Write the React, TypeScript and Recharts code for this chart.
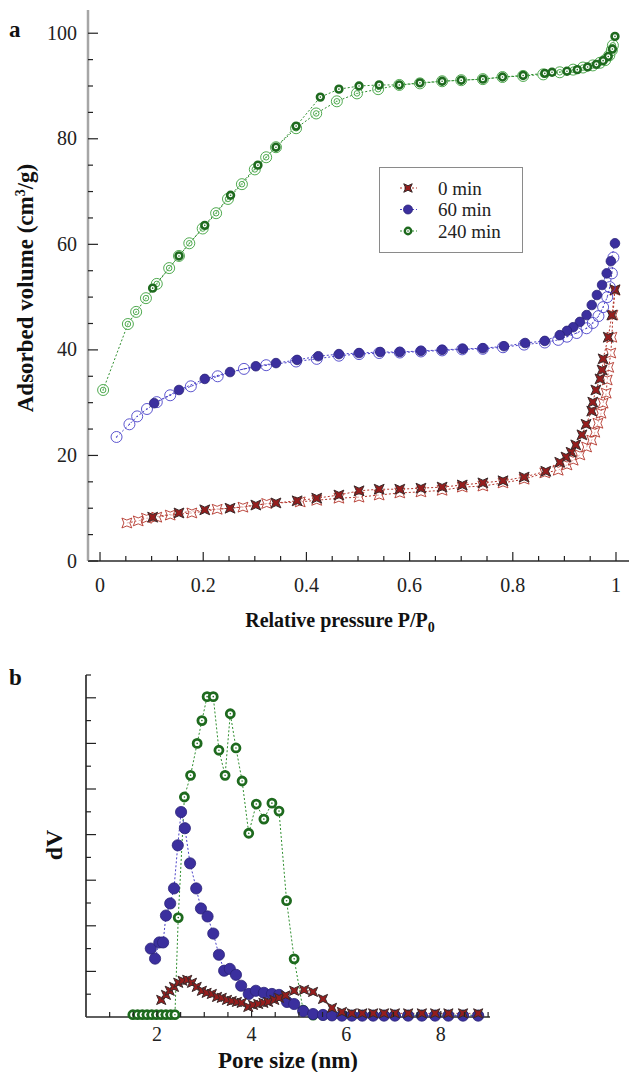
import { LineChart, Line, XAxis, YAxis } from 'recharts';

const FONT = '"Liberation Serif", "Times New Roman", Times, serif';

// ---- (a) N2 isotherms: [P/P0, adsorbed volume cm3/g] ----
// ads = adsorption branch (open markers), des = desorption branch (filled markers)
const ads0: [number, number][] = [
  [0.052, 7.2], [0.074, 7.6], [0.09, 8.1], [0.11, 8.3], [0.136, 8.7], [0.178, 9.1], [0.227, 9.8],
  [0.277, 10.2], [0.323, 10.9], [0.388, 11.2], [0.42, 11.5], [0.463, 11.9], [0.502, 12.1],
  [0.541, 12.5], [0.581, 12.9], [0.622, 13.1], [0.663, 13.4], [0.702, 14.0], [0.742, 14.2],
  [0.781, 14.8], [0.822, 15.5], [0.862, 16.7], [0.888, 17.2], [0.905, 18.2], [0.917, 19.1],
  [0.93, 20.1], [0.943, 21.6], [0.953, 22.9], [0.959, 24.4], [0.965, 26.1], [0.971, 28.0],
  [0.975, 29.9], [0.981, 31.8], [0.983, 34.3], [0.986, 36.7], [0.99, 39.4], [0.992, 42.4],
  [0.994, 46.6], [0.998, 51.3],
];
const des0: [number, number][] = [
  [0.998, 51.4], [0.992, 46.6], [0.985, 42.4], [0.975, 38.3], [0.973, 36.2], [0.969, 34.5],
  [0.961, 32.4], [0.955, 30.1], [0.953, 28.4], [0.942, 25.9], [0.934, 23.9], [0.922, 22.0],
  [0.913, 20.6], [0.903, 19.7], [0.891, 18.7], [0.864, 17.0], [0.822, 15.9], [0.781, 15.2],
  [0.742, 14.8], [0.702, 14.4], [0.663, 14.0], [0.622, 13.8], [0.581, 13.6], [0.541, 13.6],
  [0.502, 13.3], [0.463, 12.5], [0.42, 11.9], [0.382, 11.4], [0.341, 11.0], [0.302, 10.6],
  [0.252, 10.0], [0.203, 9.7], [0.153, 9.1], [0.102, 8.3],
];
const ads60: [number, number][] = [
  [0.032, 23.5], [0.057, 25.9], [0.072, 27.4], [0.091, 28.8], [0.11, 30.1], [0.136, 31.4],
  [0.176, 33.1], [0.228, 35.0], [0.279, 36.4], [0.322, 37.1], [0.38, 37.8], [0.42, 38.3],
  [0.463, 38.9], [0.502, 39.2], [0.541, 39.4], [0.581, 39.5], [0.622, 39.7], [0.663, 39.9],
  [0.702, 40.1], [0.742, 40.2], [0.781, 40.5], [0.822, 41.0], [0.862, 41.4], [0.888, 41.9],
  [0.905, 42.5], [0.924, 43.2], [0.943, 44.1], [0.955, 45.1], [0.966, 46.4], [0.975, 48.1],
  [0.983, 50.0], [0.988, 51.9], [0.992, 54.5], [0.995, 57.5],
];
const des60: [number, number][] = [
  [0.998, 60.2], [0.99, 56.8], [0.982, 54.5], [0.973, 52.3], [0.963, 50.4], [0.953, 48.5],
  [0.943, 46.6], [0.93, 45.3], [0.917, 44.3], [0.905, 43.6], [0.891, 42.8], [0.862, 41.7],
  [0.824, 41.3], [0.783, 40.7], [0.742, 40.3], [0.703, 40.2], [0.663, 40.0], [0.622, 39.8],
  [0.581, 39.6], [0.543, 39.6], [0.502, 39.4], [0.463, 39.2], [0.423, 38.8], [0.382, 38.1],
  [0.341, 37.5], [0.302, 36.9], [0.252, 35.8], [0.203, 34.5], [0.153, 32.4], [0.105, 29.9],
];
const ads240: [number, number][] = [
  [0.006, 32.4], [0.054, 44.9], [0.07, 47.2], [0.089, 49.8], [0.11, 52.5], [0.134, 55.5],
  [0.153, 57.8], [0.173, 60.2], [0.199, 63.0], [0.225, 65.9], [0.248, 68.6], [0.275, 71.4],
  [0.3, 74.2], [0.322, 76.5], [0.341, 78.4], [0.38, 82.0], [0.419, 84.8], [0.459, 87.1],
  [0.498, 88.6], [0.539, 89.4], [0.58, 90.2], [0.62, 90.5], [0.663, 90.9], [0.7, 91.1],
  [0.742, 91.3], [0.78, 91.7], [0.82, 91.9], [0.859, 92.2], [0.891, 92.6], [0.917, 93.1],
  [0.936, 93.5], [0.955, 93.9], [0.969, 94.4], [0.979, 94.9], [0.987, 95.8], [0.992, 96.8],
  [0.994, 97.7],
];
const des240: [number, number][] = [
  [0.998, 99.4], [0.993, 97.0], [0.985, 95.6], [0.975, 94.8], [0.962, 94.1], [0.945, 93.6],
  [0.925, 93.1], [0.905, 92.8], [0.876, 92.6], [0.862, 92.4], [0.82, 92.0], [0.78, 91.7],
  [0.742, 91.3], [0.7, 91.1], [0.663, 90.9], [0.62, 90.6], [0.58, 90.2], [0.541, 90.2],
  [0.502, 90.0], [0.463, 89.4], [0.427, 87.9], [0.38, 82.4], [0.341, 78.4], [0.306, 75.0],
  [0.253, 69.3], [0.203, 63.6], [0.153, 57.8], [0.102, 51.7],
];

// ---- (b) pore size distribution: [pore size nm, dV (arb.)] ----
const psd0: [number, number][] = [
  [2.09, 0.75], [2.19, 0.97], [2.27, 1.15], [2.36, 1.32], [2.45, 1.5], [2.54, 1.59], [2.64, 1.63],
  [2.74, 1.5], [2.84, 1.32], [2.95, 1.15], [3.05, 1.06], [3.16, 1.01], [3.27, 0.88], [3.37, 0.84],
  [3.48, 0.75], [3.58, 0.7], [3.69, 0.66], [3.79, 0.62], [3.93, 0.44], [4.03, 0.53], [4.14, 0.57],
  [4.25, 0.62], [4.35, 0.66], [4.48, 0.75], [4.58, 0.84], [4.72, 0.95], [4.9, 1.15], [5.11, 1.19],
  [5.3, 1.1], [5.51, 0.79], [5.7, 0.4], [5.91, 0.22], [6.12, 0.16], [6.34, 0.16], [6.57, 0.16],
  [6.8, 0.16], [7.03, 0.16], [7.31, 0.16], [7.6, 0.16], [7.88, 0.16], [8.16, 0.16], [8.47, 0.16],
  [8.79, 0.16],
];
const psd60: [number, number][] = [
  [1.87, 3.0], [1.96, 2.56], [2.05, 3.27], [2.13, 3.27], [2.19, 4.45], [2.28, 4.98], [2.36, 5.64],
  [2.44, 7.53], [2.51, 8.99], [2.59, 8.28], [2.7, 6.74], [2.83, 5.64], [2.93, 4.76], [3.07, 4.41],
  [3.19, 3.66], [3.31, 2.73], [3.42, 2.03], [3.54, 2.11], [3.67, 1.85], [3.78, 1.37], [3.94, 1.01],
  [4.09, 1.15], [4.26, 1.06], [4.43, 1.01], [4.58, 0.97], [4.75, 0.66], [4.9, 0.57], [5.09, 0.26],
  [5.3, 0.13], [5.51, 0.09], [5.7, 0.07], [5.91, 0.06], [6.12, 0.06], [6.34, 0.06], [6.57, 0.06],
  [6.8, 0.06], [7.03, 0.06], [7.31, 0.06], [7.6, 0.06], [7.88, 0.06], [8.16, 0.06], [8.47, 0.06],
  [8.79, 0.06],
];
const psd240: [number, number][] = [
  [1.49, 0.1], [1.59, 0.1], [1.69, 0.1], [1.79, 0.1], [1.89, 0.1], [1.99, 0.1], [2.09, 0.1],
  [2.19, 0.1], [2.29, 0.1], [2.38, 0.1], [2.45, 4.36], [2.58, 9.65], [2.71, 10.6], [2.85, 12.0],
  [2.95, 13.0], [3.06, 14.05], [3.19, 14.05], [3.31, 11.7], [3.44, 10.6], [3.55, 13.3], [3.67, 11.8],
  [3.8, 10.35], [3.94, 8.06], [4.1, 9.34], [4.26, 8.68], [4.43, 9.38], [4.58, 9.03], [4.74, 5.1],
  [4.9, 2.55], [5.09, 0.3], [5.3, 0.08], [5.51, 0.08], [5.7, 0.08], [5.91, 0.08], [6.12, 0.08],
  [6.34, 0.08], [6.57, 0.08], [6.8, 0.08], [7.03, 0.08], [7.31, 0.08], [7.6, 0.08], [7.88, 0.08],
  [8.16, 0.08], [8.47, 0.08], [8.79, 0.08],
];

// ticks
const xTicksA = [0, 0.05, 0.1, 0.15, 0.2, 0.25, 0.3, 0.35, 0.4, 0.45, 0.5, 0.55, 0.6, 0.65, 0.7, 0.75, 0.8, 0.85, 0.9, 0.95, 1];
const xLabelsA = [0, 0.2, 0.4, 0.6, 0.8, 1];
const yTicksA = [0, 5, 10, 15, 20, 25, 30, 35, 40, 45, 50, 55, 60, 65, 70, 75, 80, 85, 90, 95, 100];
const yLabelsA = [0, 20, 40, 60, 80, 100];
const xTicksB = [1, 1.5, 2, 2.5, 3, 3.5, 4, 4.5, 5, 5.5, 6, 6.5, 7, 7.5, 8, 8.5, 9];
const xLabelsB = [2, 4, 6, 8];
const yTicksB = [1, 2, 3, 4, 5, 6, 7, 8, 9, 10, 11, 12, 13, 14, 15];
const yLongB = [2, 4, 6, 8, 10, 12, 14];

const legendNames = ['0 min', '60 min', '240 min'];

const RED = '#b3352b';
const BLUE = '#4a42c8';
const GREEN = '#2f8f2f';

const toPts = (arr: [number, number][]) => arr.map(([x, y]) => ({ x, y }));
const has = (list: number[], v: number) => list.some((l) => Math.abs(l - v) < 1e-6);

// 4-point star with points on the diagonals
const starPath = (cx: number, cy: number, R: number, r: number) => {
  let d = '';
  for (let i = 0; i < 8; i++) {
    const a = Math.PI / 4 + (i * Math.PI) / 4;
    const rad = i % 2 === 0 ? R : r;
    d += (i === 0 ? 'M' : 'L') + (cx + rad * Math.cos(a)).toFixed(2) + ',' + (cy + rad * Math.sin(a)).toFixed(2);
  }
  return d + 'Z';
};

const StarFilled = ({ cx, cy, R = 7 }: any) => (
  <path d={starPath(cx, cy, R, R * 0.38)} fill="#951d1d" stroke="#3b2a2a" strokeWidth={1} />
);
const StarOpen = ({ cx, cy, R = 7 }: any) => (
  <path d={starPath(cx, cy, R, R * 0.42)} fill="#fff" fillOpacity={0.6} stroke={RED} strokeWidth={0.9} />
);
const DiscFilled = ({ cx, cy, r = 5 }: any) => (
  <circle cx={cx} cy={cy} r={r} fill="#3b2f9e" stroke="#2b2378" strokeWidth={0.8} />
);
const CircleOpen = ({ cx, cy }: any) => (
  <g>
    <circle cx={cx} cy={cy} r={5.5} fill="none" stroke={BLUE} strokeWidth={0.9} />
    <circle cx={cx} cy={cy} r={0.7} fill={BLUE} />
  </g>
);
const RingFilled = ({ cx, cy, r = 3.4, w = 2.6 }: any) => (
  <g>
    <circle cx={cx} cy={cy} r={r} fill="#fff" stroke="#1e6a1e" strokeWidth={w} />
    <circle cx={cx} cy={cy} r={0.8} fill="#1e6a1e" />
  </g>
);
const DoubleOpen = ({ cx, cy }: any) => (
  <g>
    <circle cx={cx} cy={cy} r={5.5} fill="#fff" fillOpacity={0.5} stroke="#3ca03c" strokeWidth={0.9} />
    <circle cx={cx} cy={cy} r={2.8} fill="none" stroke="#3ca03c" strokeWidth={0.9} />
    <circle cx={cx} cy={cy} r={0.7} fill="#3ca03c" />
  </g>
);

const dotWith = (Mark: any, extra: any = {}) => (p: any) => <Mark key={`d${p.index}`} cx={p.cx} cy={p.cy} {...extra} />;

type TickOpts = {
  side: 'left' | 'bottom';
  labels: number[];
  long: number[];
  longLen: number;
  shortLen: number;
  gap: number;
  fontSize: number;
};
const makeTick = (o: TickOpts) => (props: any) => {
  const { x, y, payload } = props;
  const v = payload.value;
  const len = has(o.long, v) ? o.longLen : o.shortLen;
  const label = has(o.labels, v) ? String(v) : '';
  if (o.side === 'left') {
    return (
      <g>
        <line x1={x} x2={x + len} y1={y} y2={y} stroke="#222" strokeWidth={1.2} />
        {label && (
          <text x={x - o.gap} y={y + o.fontSize * 0.33} textAnchor="end" fontSize={o.fontSize} fill="#222" fontFamily={FONT}>
            {label}
          </text>
        )}
      </g>
    );
  }
  return (
    <g>
      <line x1={x} x2={x} y1={y} y2={y - len} stroke="#222" strokeWidth={1.2} />
      {label && (
        <text x={x} y={y + o.gap} textAnchor="middle" fontSize={o.fontSize} fill="#222" fontFamily={FONT}>
          {label}
        </text>
      )}
    </g>
  );
};

const lineProps = {
  type: 'linear' as const,
  dataKey: 'y',
  strokeWidth: 1,
  strokeDasharray: '2 2',
  activeDot: false,
  isAnimationActive: false,
  legendType: 'none' as const,
};

const PanelA = () => (
  <LineChart width={629} height={640} margin={{ top: 10, right: 0, bottom: 78, left: 87 }}>
    <XAxis
      type="number"
      dataKey="x"
      domain={[-0.0233, 1.0252]}
      ticks={xTicksA}
      interval={0}
      height={1}
      tickSize={0}
      tickMargin={0}
      tickLine={false}
      axisLine={{ stroke: '#2a2a2a', strokeWidth: 1.3 }}
      tick={makeTick({ side: 'bottom', labels: xLabelsA, long: xLabelsA, longLen: 9, shortLen: 5, gap: 31, fontSize: 20 })}
    />
    <YAxis
      type="number"
      domain={[0, 104.4]}
      ticks={yTicksA}
      interval={0}
      width={1}
      tickSize={0}
      tickMargin={0}
      tickLine={false}
      axisLine={{ stroke: '#a6a6a6', strokeWidth: 2.5 }}
      tick={makeTick({ side: 'left', labels: yLabelsA, long: yLabelsA, longLen: 10, shortLen: 5, gap: 11, fontSize: 20 })}
    />
    <Line {...lineProps} data={toPts(ads0)} stroke={RED} dot={dotWith(StarOpen)} />
    <Line {...lineProps} data={toPts(des0)} stroke={RED} dot={dotWith(StarFilled)} />
    <Line {...lineProps} data={toPts(ads60)} stroke={BLUE} dot={dotWith(CircleOpen)} />
    <Line {...lineProps} data={toPts(des60)} stroke={BLUE} dot={dotWith(DiscFilled, { r: 4.8 })} />
    <Line {...lineProps} data={toPts(ads240)} stroke={GREEN} dot={dotWith(DoubleOpen)} />
    <Line {...lineProps} data={toPts(des240)} stroke={GREEN} dot={dotWith(RingFilled)} />
  </LineChart>
);

const PanelB = () => (
  <LineChart width={629} height={432} margin={{ top: 35, right: 139, bottom: 54, left: 85 }}>
    <XAxis
      type="number"
      dataKey="x"
      domain={[0.5, 9.04]}
      ticks={xTicksB}
      interval={0}
      height={1}
      tickSize={0}
      tickMargin={0}
      tickLine={false}
      axisLine={{ stroke: '#2a2a2a', strokeWidth: 1.4 }}
      tick={makeTick({ side: 'bottom', labels: xLabelsB, long: xLabelsB, longLen: 6, shortLen: 5, gap: 24, fontSize: 20 })}
    />
    <YAxis
      type="number"
      domain={[0, 15]}
      ticks={yTicksB}
      interval={0}
      width={1}
      tickSize={0}
      tickMargin={0}
      tickLine={false}
      axisLine={{ stroke: '#3a3a3a', strokeWidth: 1.8 }}
      tick={makeTick({ side: 'left', labels: [], long: yLongB, longLen: 10, shortLen: 5, gap: 0, fontSize: 20 })}
    />
    <Line {...lineProps} data={toPts(psd240)} stroke={GREEN} dot={dotWith(RingFilled, { r: 4, w: 2.8 })} />
    <Line {...lineProps} data={toPts(psd60)} stroke={BLUE} dot={dotWith(DiscFilled, { r: 5.6 })} />
    <Line {...lineProps} data={toPts(psd0)} stroke={RED} dot={dotWith(StarFilled, { R: 6.5 })} />
  </LineChart>
);

const legendMarks = [
  { color: RED, Mark: StarFilled, extra: { R: 6 } },
  { color: BLUE, Mark: DiscFilled, extra: { r: 4.5 } },
  { color: GREEN, Mark: RingFilled, extra: { r: 3.2, w: 2.4 } },
];

const Overlay = () => (
  <svg width={629} height={1072} style={{ position: 'absolute', left: 0, top: 0, pointerEvents: 'none' }} fontFamily={FONT}>
    <text x={9} y={37} fontSize={23} fontWeight="bold" fill="#111">a</text>
    <text transform="translate(33,288) rotate(-90)" textAnchor="middle" fontSize={23} fontWeight="bold" fill="#111">
      Adsorbed volume (cm<tspan dy={-8} fontSize={14}>3</tspan><tspan dy={8}>/g)</tspan>
    </text>
    <text x={340} y={627} textAnchor="middle" fontSize={20} fontWeight="bold" fill="#111">
      Relative pressure P/P<tspan dy={5} fontSize={14}>0</tspan>
    </text>

    <rect x={379.5} y={167.5} width={143} height={85} fill="#fff" stroke="#8a8a8a" strokeWidth={1} />
    {legendNames.map((name, i) => {
      const cy = 188 + i * 21.5;
      const { color, Mark, extra } = legendMarks[i];
      return (
        <g key={name}>
          <line x1={400} x2={417} y1={cy} y2={cy} stroke={color} strokeWidth={1} strokeDasharray="2 2" />
          <Mark cx={408} cy={cy} {...extra} />
          <text x={438} y={cy + 6.5} fontSize={19} fill="#222">{name}</text>
        </g>
      );
    })}

    <text x={9} y={685} fontSize={23} fontWeight="bold" fill="#111">b</text>
    <text transform="translate(62,845) rotate(-90)" textAnchor="middle" fontSize={24} fontWeight="bold" fill="#111">dV</text>
    <text x={288} y={1068} textAnchor="middle" fontSize={23} fontWeight="bold" fill="#111">Pore size (nm)</text>
  </svg>
);

export default function App() {
  return (
    <div style={{ position: 'absolute', left: 0, top: 0, width: 629, height: 1072, background: '#fff', fontFamily: FONT }}>
      <div style={{ position: 'absolute', left: 0, top: 0 }}>
        <PanelA />
      </div>
      <div style={{ position: 'absolute', left: 0, top: 640 }}>
        <PanelB />
      </div>
      <Overlay />
    </div>
  );
}
